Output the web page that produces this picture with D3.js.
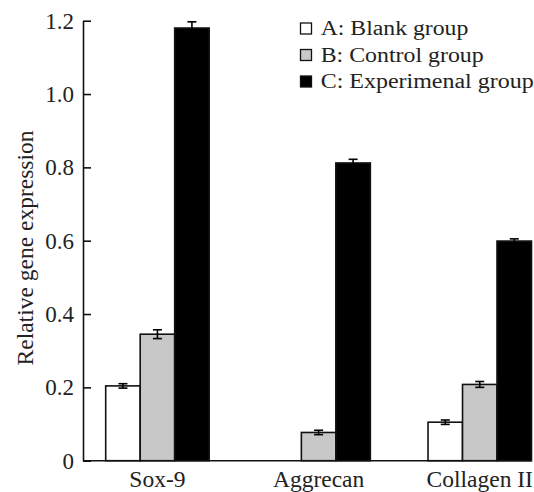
<!DOCTYPE html>
<html>
<head>
<meta charset="utf-8">
<script src="https://cdn.jsdelivr.net/npm/d3@7"></script>
<style>
body { margin: 0; background: #fff; }
svg { display: block; font-family: "Liberation Serif", "Times New Roman", serif; }
</style>
</head>
<body>
<svg width="534" height="492"></svg>
<script>
// data
var genes = ["Sox-9", "Aggrecan", "Collagen II"];
var groups = ["A: Blank group", "B: Control group", "C: Experimenal group"];
var blank = [0.204, 0, 0.105];
var control = [0.345, 0.077, 0.208];
var experimental = [1.18, 0.812, 0.599];
var blankErr = [0.006, 0, 0.006];
var controlErr = [0.012, 0.006, 0.008];
var experimentalErr = [0.017, 0.01, 0.006];
var yTicks = [0, 0.2, 0.4, 0.6, 0.8, 1.0, 1.2];

var colors = ["#ffffff", "#c8c8c8", "#000000"];
var values = [blank, control, experimental];
var errors = [blankErr, controlErr, experimentalErr];

var svg = d3.select("svg");
var axisX = 83;

var yScale = d3.scaleLinear().domain([0, 1.2]).range([460.7, 20.7]);
var xScale = d3.scaleBand().domain(genes).range([105.7, 531.5]).paddingInner(0.358).paddingOuter(0);
var xInner = d3.scaleBand().domain(groups).range([0, xScale.bandwidth()]);

// flatten for drawing
var rows = [];
genes.forEach(function (g, i) {
    groups.forEach(function (s, j) {
        rows.push({ gene: g, group: s, value: values[j][i], err: errors[j][i], color: colors[j] });
    });
});

// bars
svg.selectAll(".bar")
.data(rows.filter(function (d) { return d.value > 0; }))
.enter()
.append("rect")
.attr("class", "bar")
.attr("x", function (d) { return xScale(d.gene) + xInner(d.group); })
.attr("y", function (d) { return yScale(d.value); })
.attr("width", xInner.bandwidth())
.attr("height", function (d) { return yScale(0) - yScale(d.value); })
.attr("fill", function (d) { return d.color; })
.attr("stroke", "#111")
.attr("stroke-width", 1.6);

// error bars
var eb = svg.selectAll(".err")
.data(rows.filter(function (d) { return d.value > 0; }))
.enter()
.append("g")
.attr("class", "err")
.attr("stroke", "#000")
.attr("stroke-width", 1.6);

function cx(d) { return xScale(d.gene) + xInner(d.group) + xInner.bandwidth() / 2; }

eb.append("line")
.attr("x1", cx).attr("x2", cx)
.attr("y1", function (d) { return yScale(d.value + d.err); })
.attr("y2", function (d) { return yScale(d.value - d.err); });
eb.append("line")
.attr("x1", function (d) { return cx(d) - 4.5; })
.attr("x2", function (d) { return cx(d) + 4.5; })
.attr("y1", function (d) { return yScale(d.value + d.err); })
.attr("y2", function (d) { return yScale(d.value + d.err); });
eb.append("line")
.attr("x1", function (d) { return cx(d) - 4.5; })
.attr("x2", function (d) { return cx(d) + 4.5; })
.attr("y1", function (d) { return yScale(d.value - d.err); })
.attr("y2", function (d) { return yScale(d.value - d.err); });

// baseline
svg.append("line")
.attr("x1", axisX)
.attr("x2", xScale.range()[1])
.attr("y1", yScale(0))
.attr("y2", yScale(0))
.attr("stroke", "#111")
.attr("stroke-width", 1.6);

// y axis, ticks pointing in
var yAxis = svg.append("g")
.attr("transform", "translate(" + axisX + ",0)")
.call(
    d3.axisLeft(yScale)
    .tickValues(yTicks)
    .tickSize(-8)
    .tickSizeOuter(0)
    .tickPadding(9)
    .tickFormat(function (d) { return d === 0 ? "0" : d.toFixed(1); })
);
yAxis.attr("font-family", null);
yAxis.select(".domain").attr("stroke", "#111").attr("stroke-width", 1.6);
yAxis.selectAll(".tick line").attr("stroke", "#111").attr("stroke-width", 1.6);
yAxis.selectAll(".tick text")
.attr("font-size", "23px")
.attr("fill", "#222");

// category labels
svg.selectAll(".xlabel")
.data(genes)
.enter()
.append("text")
.attr("class", "xlabel")
.attr("x", function (d) { return xScale(d) + xScale.bandwidth() / 2; })
.attr("y", 487)
.attr("text-anchor", "middle")
.attr("font-size", "23.5px")
.attr("fill", "#222")
.text(function (d) { return d; });

// y title
svg.append("text")
.attr("transform", "translate(33,248) rotate(-90)")
.attr("text-anchor", "middle")
.attr("font-size", "23.5px")
.attr("fill", "#222")
.text("Relative gene expression");

// legend
var legend = svg.selectAll(".legend")
.data(groups)
.enter()
.append("g")
.attr("class", "legend")
.attr("transform", function (d, i) { return "translate(300," + (35 + i * 26.5) + ")"; });

legend.append("rect")
.attr("x", 0.5)
.attr("y", -12)
.attr("width", 11)
.attr("height", 11)
.attr("fill", function (d, i) { return colors[i]; })
.attr("stroke", "#111")
.attr("stroke-width", 1.3);

legend.append("text")
.attr("x", 20.7)
.attr("y", 0)
.attr("font-size", "20px")
.attr("fill", "#222")
.attr("textLength", function (d, i) { return [147.6, 163, 213][i]; })
.attr("lengthAdjust", "spacingAndGlyphs")
.text(function (d) { return d; });
</script>
</body>
</html>
